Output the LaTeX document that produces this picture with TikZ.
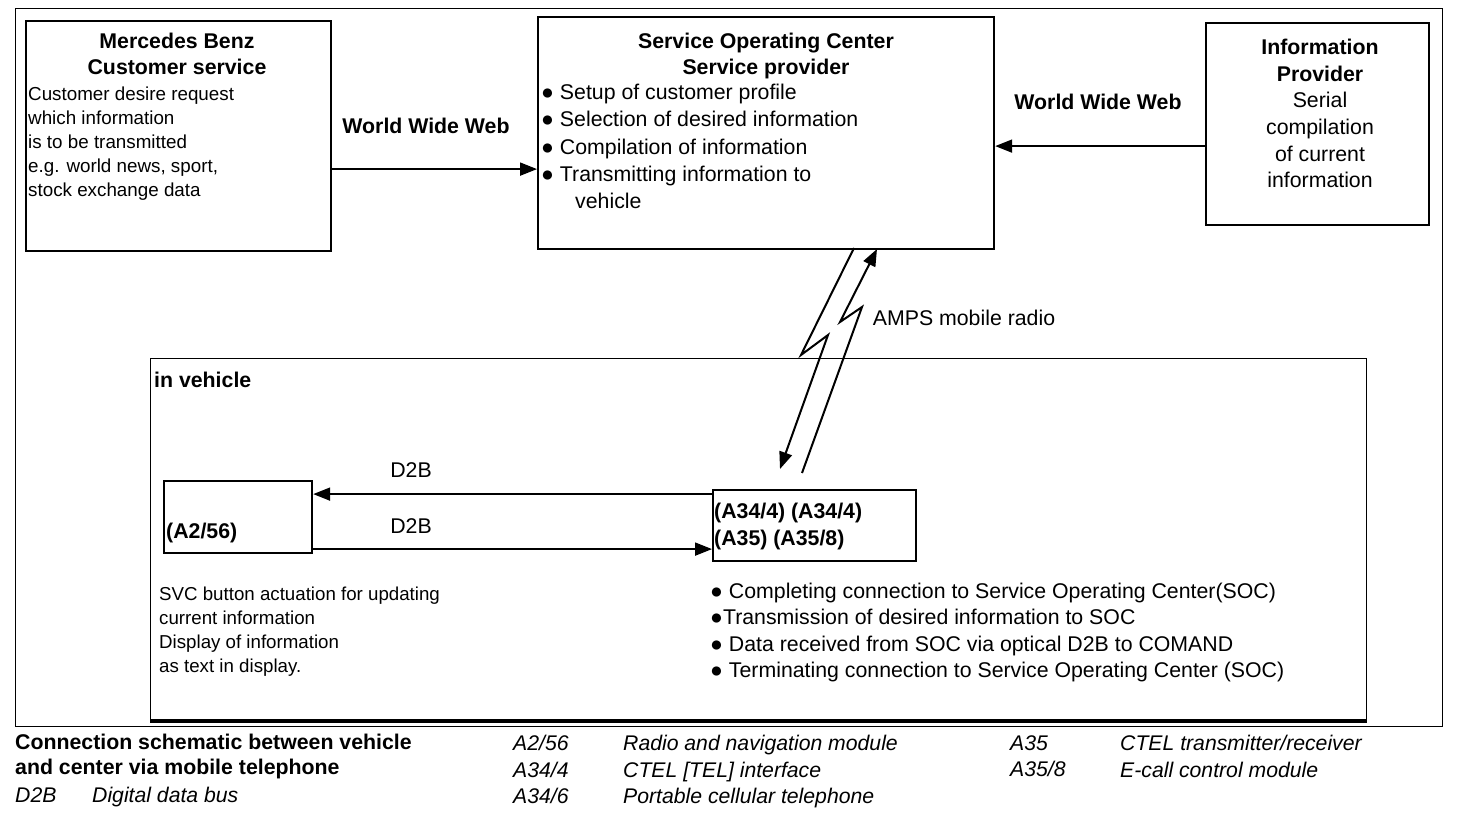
\documentclass[tikz,border=0pt]{standalone}
\usepackage{fontspec}
\setmainfont{Liberation Sans}
\usetikzlibrary{arrows.meta}
\begin{document}
\begin{tikzpicture}[x=1pt,y=-1pt,
  box/.style={draw,line width=2.2pt,inner sep=0pt,anchor=north west},
  thinbox/.style={draw,line width=1.1pt,inner sep=0pt,anchor=north west},
  txt/.style={inner sep=0pt,anchor=north west,align=left},
  ctxt/.style={inner sep=0pt,anchor=north,align=center},
  fn/.style={font=\fontsize{21.3}{26}\selectfont},
  fb/.style={font=\fontsize{21.3}{26}\selectfont\bfseries},
  fi/.style={font=\fontsize{21.2}{26.5}\selectfont\itshape},
  arr/.style={line width=2pt,-{Triangle[length=17pt,width=13pt]}},
]
\useasboundingbox (0,0) rectangle (1472,826);
% frames
\node[thinbox,minimum width=1427,minimum height=718] (outer) at (15,8) {};
\node[thinbox,minimum width=1216,minimum height=362] (veh) at (150,358) {};
\draw[line width=3.5pt] (veh.south west) -- (veh.south east);
% boxes
\node[box,minimum width=305,minimum height=230] (mb) at (25,20) {};
\node[box,minimum width=456,minimum height=232] (soc) at (537,16) {};
\node[box,minimum width=223,minimum height=202] (ip) at (1205,22) {};
\node[box,minimum width=148,minimum height=72] (a2) at (163,480) {};
\node[box,minimum width=203,minimum height=71] (a34) at (712,489) {};
% Mercedes text
\node[ctxt,fb] (mbt) at (177,33) {Mercedes Benz\\Customer service};
\node[txt,font=\fontsize{18.8}{24}\selectfont] (mbb) at (28,87) {Customer desire request\\which information\\is to be transmitted\\e.g. world news, sport,\\stock exchange data};
% SOC text
\node[ctxt,fb] (soct) at (766,33) {Service Operating Center\\Service provider};
\node[txt,font=\fontsize{21.3}{27.2}\selectfont] (socb) at (541,84) {● Setup of customer profile\\● Selection of desired information\\● Compilation of information\\● Transmitting information to\\\hspace*{34pt}vehicle};
% Info provider
\node[ctxt,font=\fontsize{21.3}{26.6}\selectfont] (ipt) at (1320,39) {\textbf{Information}\\\textbf{Provider}\\Serial\\compilation\\of current\\information};
% labels
\node[fb,inner sep=0pt] (www1) at (426,126) {World Wide Web};
\node[fb,inner sep=0pt] (www2) at (1098,102) {World Wide Web};
\node[fn,inner sep=0pt] (amps) at (964,318) {AMPS mobile radio};
\node[fn,inner sep=0pt] (d2b1) at (411,470) {D2B};
\node[fn,inner sep=0pt] (d2b2) at (411,526) {D2B};
\node[txt,fb,anchor=west] (inv) at (154,380) {in vehicle};
\node[txt,fb,anchor=west] (a2t) at (166,533) {(A2/56)};
\node[txt,font=\fontsize{21.3}{27}\selectfont\bfseries] (a34t) at (714,503) {(A34/4) (A34/4)\\(A35) (A35/8)};
\node[txt,font=\fontsize{18.7}{24}\selectfont] (svc) at (159,587) {SVC button actuation for updating\\current information\\Display of information\\as text in display.};
\node[txt,font=\fontsize{21.3}{26.3}\selectfont] (vb) at (710,583) {● Completing connection to Service Operating Center(SOC)\\●Transmission of desired information to SOC\\● Data received from SOC via optical D2B to COMAND\\● Terminating connection to Service Operating Center (SOC)};
% legend
\node[txt,font=\fontsize{21.3}{24.5}\selectfont\bfseries] (lg1) at (15,734) {Connection schematic between vehicle\\and center via mobile telephone};
\node[txt,fi] (lg2) at (15,787) {D2B};
\node[txt,fi] (lg3) at (92,787) {Digital data bus};
\node[txt,fi] (lg4) at (513,735) {A2/56\\A34/4\\A34/6};
\node[txt,fi] (lg5) at (623,735) {Radio and navigation module\\CTEL [TEL] interface\\Portable cellular telephone};
\node[txt,fi] (lg6) at (1010,735) {A35\\A35/8};
\node[txt,fi] (lg7) at (1120,735) {CTEL transmitter/receiver\\E-call control module};
% connectors
\path (mb.east) ++(0,33) coordinate (mbw);
\path (soc.west |- mbw) coordinate (socw);
\draw[arr] (mbw) -- (socw);
\path (ip.west) ++(0,22) coordinate (ipw);
\path (soc.east |- ipw) coordinate (soce);
\draw[arr] (ipw) -- (soce);
\path (a34.west) ++(0,-31.5) coordinate (a34a);
\path (a2.east |- a34a) coordinate (a2a);
\draw[arr] (a34a) -- (a2a);
\path (a2.east) ++(0,32) coordinate (a2b);
\path (a34.west |- a2b) coordinate (a34b);
\draw[arr] (a2b) -- (a34b);
% radio links
\coordinate (l1a) at (854,248);
\coordinate (l1b) at (801,355);
\coordinate (l1c) at (828,335);
\coordinate (l1d) at (780,469);
\draw[arr] (l1a) -- (l1b) -- (l1c) -- (l1d);
\coordinate (l2a) at (802,473);
\coordinate (l2b) at (862,307);
\coordinate (l2c) at (840,322);
\coordinate (l2d) at (877,249);
\draw[arr] (l2a) -- (l2b) -- (l2c) -- (l2d);
\end{tikzpicture}
\end{document}
